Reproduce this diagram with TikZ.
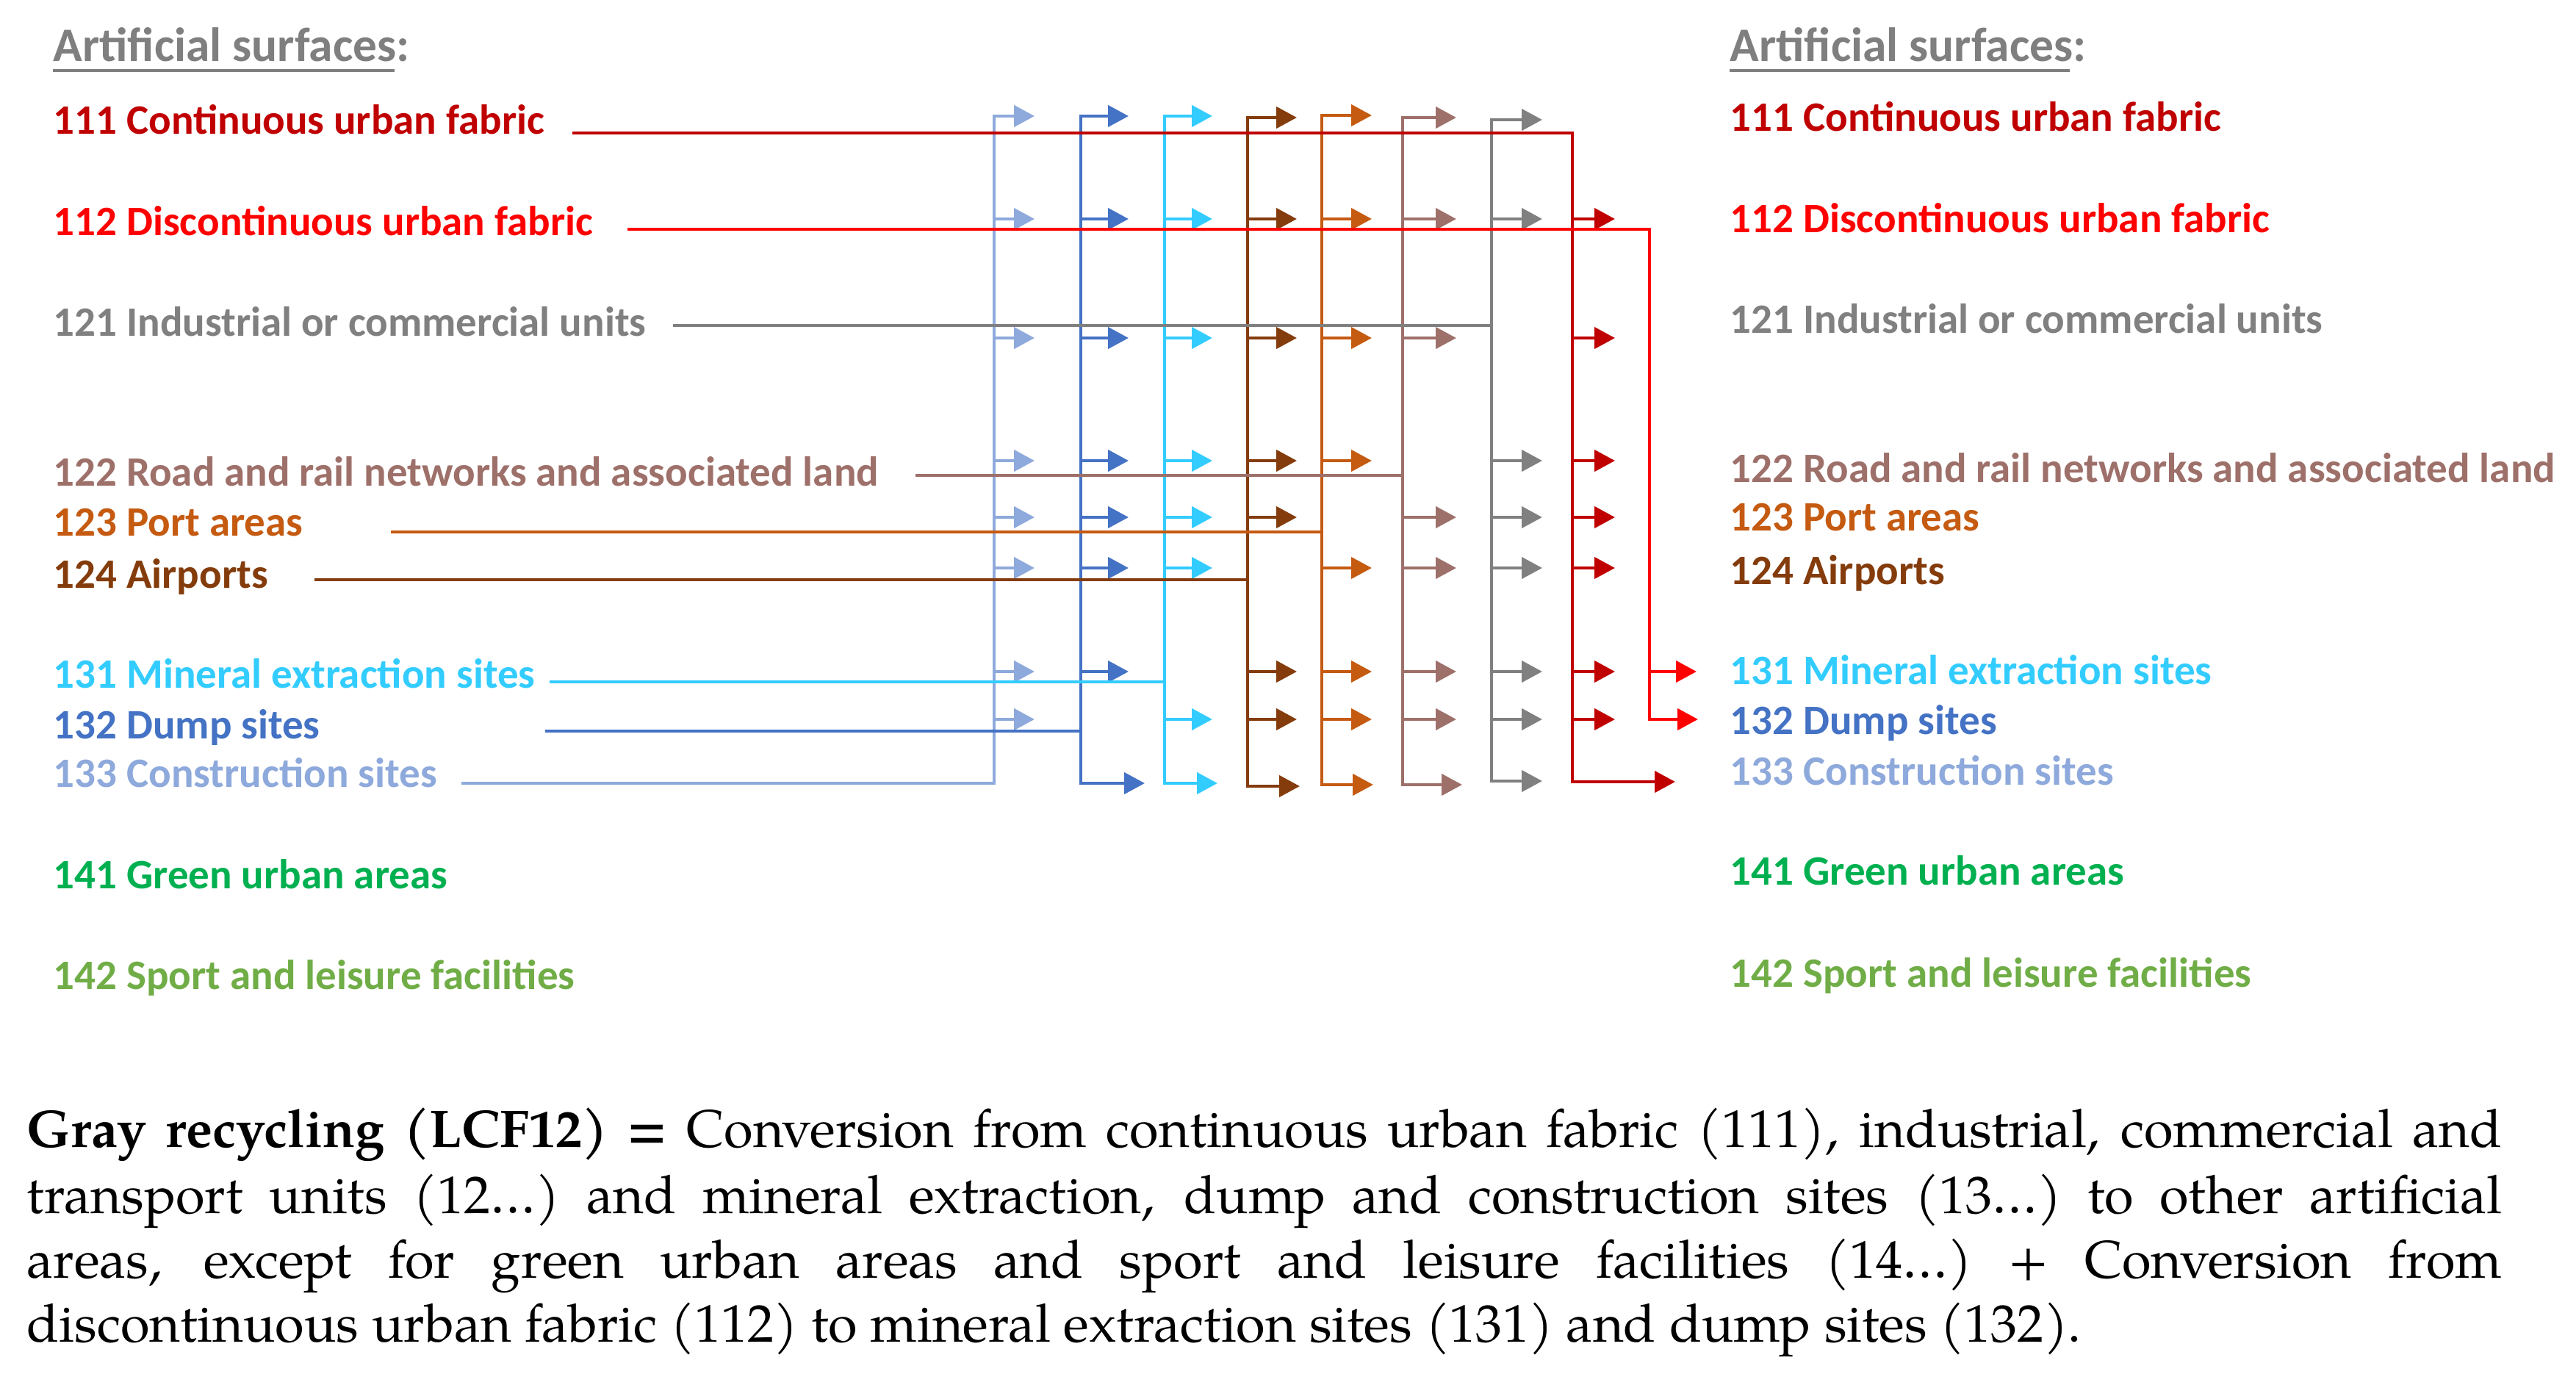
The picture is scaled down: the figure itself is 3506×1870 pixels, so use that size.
\documentclass[tikz,border=0pt]{standalone}
\usepackage{fontspec}
\usetikzlibrary{arrows.meta}
\newfontfamily\calfont{Carlito}
\newfontfamily\palfont{texgyrepagella}[Extension=.otf,UprightFont=*-regular,BoldFont=*-bold,ItalicFont=*-italic,BoldItalicFont=*-bolditalic]
\definecolor{cA}{HTML}{C00000}
\definecolor{cB}{HTML}{FF0000}
\definecolor{cC}{HTML}{808080}
\definecolor{cD}{HTML}{9E706A}
\definecolor{cE}{HTML}{C55A11}
\definecolor{cF}{HTML}{843C0C}
\definecolor{cG}{HTML}{33CCFF}
\definecolor{cH}{HTML}{4472C4}
\definecolor{cI}{HTML}{8EA9DB}
\definecolor{cJ}{HTML}{00B050}
\definecolor{cK}{HTML}{70AD47}
\definecolor{cHdr}{HTML}{7F7F7F}
\begin{document}
\begin{tikzpicture}[x=0.01cm,y=-0.01cm,
  lbl/.style={anchor=base west, inner sep=0pt, font=\calfont\bfseries\fontsize{16.2}{19}\selectfont},
  hdr/.style={anchor=base west, inner sep=0pt, text=cHdr, font=\calfont\bfseries\fontsize{18.6}{22}\selectfont},
  wire/.style={line width=0.045cm, line join=miter},
  arr/.style={-{Triangle[length=0.28cm,width=0.29cm]}},
  arrboth/.style={{Triangle[length=0.28cm,width=0.29cm]}-{Triangle[length=0.28cm,width=0.29cm]}},
  para/.style={anchor=base west, inner sep=0pt, font=\palfont\fontsize{20.5}{25}\selectfont}]
\useasboundingbox (0,0) rectangle (3506,1870);

% headers
\node[hdr] (hdrL) at (72,84) {Artificial surfaces:};
\node[hdr] (hdrR) at (2354,84) {Artificial surfaces:};
\draw[cHdr, line width=0.035cm] (72,96) -- (537,96);
\draw[cHdr, line width=0.035cm] (2354,96) -- (2817,96);

% left labels
\foreach \n/\y/\c/\t in {
  111/183/cA/{111 Continuous urban fabric},
  112/321/cB/{112 Discontinuous urban fabric},
  121/458/cC/{121 Industrial or commercial units},
  122/661/cD/{122 Road and rail networks and associated land},
  123/729/cE/{123 Port areas},
  124/800/cF/{124 Airports},
  131/936/cG/{131 Mineral extraction sites},
  132/1005/cH/{132 Dump sites},
  133/1071/cI/{133 Construction sites},
  141/1209/cJ/{141 Green urban areas},
  142/1346/cK/{142 Sport and leisure facilities}}
  \node[lbl, text=\c] (L\n) at (72,\y) {\t};

% right labels
\foreach \n/\y/\c/\t in {
  111/179/cA/{111 Continuous urban fabric},
  112/317/cB/{112 Discontinuous urban fabric},
  121/453/cC/{121 Industrial or commercial units},
  122/656/cD/{122 Road and rail networks and associated land},
  123/722/cE/{123 Port areas},
  124/795/cF/{124 Airports},
  131/931/cG/{131 Mineral extraction sites},
  132/999/cH/{132 Dump sites},
  133/1068/cI/{133 Construction sites},
  141/1204/cJ/{141 Green urban areas},
  142/1343/cK/{142 Sport and leisure facilities}}
  \node[lbl, text=\c] (R\n) at (2354,\y) {\t};

% start points of the source lines
\coordinate (s111) at (779,181);
\coordinate (s112) at (854,312);
\coordinate (s121) at (916,443);
\coordinate (s122) at (1246,647);
\coordinate (s123) at (532,724);
\coordinate (s124) at (428,789);
\coordinate (s131) at (748,928);
\coordinate (s132) at (742,995);
\coordinate (s133) at (628,1066);

% bus 133
\draw[wire,cI,arr] (s133) -- (1353,1066) -- (1353,158) -- (1408,158);
\foreach \y in {298,460,627,704,773,914,979}
  \draw[wire,cI,arr] (1353,\y) -- ++(55,0);
% bus 132
\draw[wire,cH,arrboth] (1536,158) -- (1471,158) -- (1471,1066) -- (1558,1066);
\foreach \y in {298,460,627,704,773,914}
  \draw[wire,cH,arr] (1471,\y) -- ++(65,0);
% bus 131
\draw[wire,cG,arrboth] (1650,158) -- (1585,158) -- (1585,1066) -- (1657,1066);
\foreach \y in {298,460,627,704,773,979}
  \draw[wire,cG,arr] (1585,\y) -- ++(65,0);
% bus 124
\draw[wire,cF,arrboth] (1765,160) -- (1698,160) -- (1698,1070) -- (1769,1070);
\foreach \y in {298,460,627,704,914,979}
  \draw[wire,cF,arr] (1698,\y) -- ++(67,0);
% bus 123
\draw[wire,cE,arrboth] (1867,157) -- (1799,157) -- (1799,1068) -- (1869,1068);
\foreach \y in {298,460,627,773,914,979}
  \draw[wire,cE,arr] (1799,\y) -- ++(68,0);
% bus 122
\draw[wire,cD,arrboth] (1982,160) -- (1909,160) -- (1909,1068) -- (1990,1068);
\foreach \y in {298,460,704,773,914,979}
  \draw[wire,cD,arr] (1909,\y) -- ++(73,0);
% bus 121
\draw[wire,cC,arrboth] (2099,163) -- (2030,163) -- (2030,1063) -- (2099,1063);
\foreach \y in {298,627,704,773,914,979}
  \draw[wire,cC,arr] (2030,\y) -- ++(69,0);

% source lines
\draw[wire,cH] (s132) -- (1471,995);
\draw[wire,cG] (s131) -- (1585,928);
\draw[wire,cF] (s124) -- (1698,789);
\draw[wire,cE] (s123) -- (1799,724);
\draw[wire,cD] (s122) -- (1909,647);
\draw[wire,cC] (s121) -- (2030,443);

% 111
\draw[wire,cA,arr] (s111) -- (2140,181) -- (2140,1064) -- (2280,1064);
\foreach \y in {298,460,627,704,773,914,979}
  \draw[wire,cA,arr] (2140,\y) -- ++(58,0);
% 112
\draw[wire,cB,arr] (s112) -- (2245,312) -- (2245,979) -- (2311,979);
\draw[wire,cB,arr] (2245,914) -- ++(64,0);

% definition text
\node[para] (p1) at (36,1561) {\hbox to 33.67cm{\textbf{Gray recycling (LCF12) =} Conversion from continuous urban fabric (111), industrial, commercial and}};
\node[para] (p2) at (36,1651) {\hbox to 33.67cm{transport units (12…) and mineral extraction, dump and construction sites (13…) to other artificial}};
\node[para] (p3) at (36,1739) {\hbox to 33.67cm{areas, except for green urban areas and sport and leisure facilities (14…) + Conversion from}};
\node[para] (p4) at (36,1826) {discontinuous urban fabric (112) to mineral extraction sites (131) and dump sites (132).};
\end{tikzpicture}
\end{document}
